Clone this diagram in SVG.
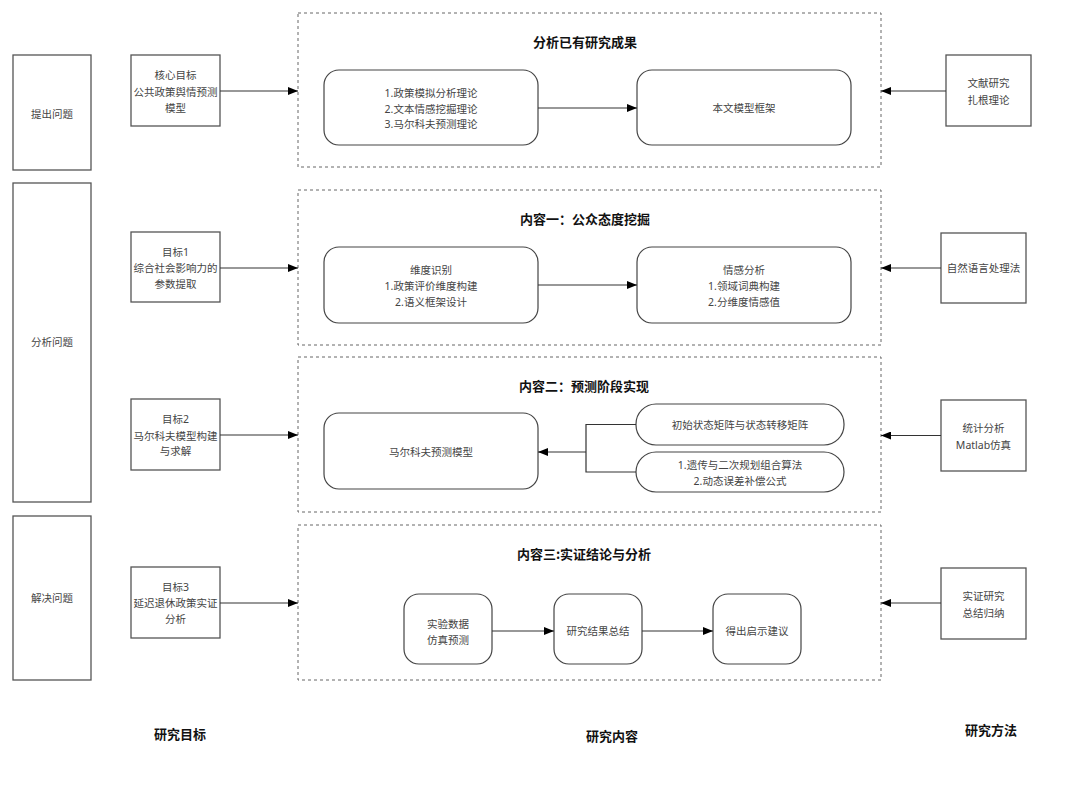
<svg xmlns="http://www.w3.org/2000/svg" width="1080" height="785" viewBox="0 0 1080 785">
<defs>
<style>
.box{fill:#fff;stroke:#555;stroke-width:1.3}
.rbox{fill:#fff;stroke:#444;stroke-width:1.2}
.cont{fill:none;stroke:#666;stroke-width:1;stroke-dasharray:3 3}
.t{font-family:"Noto Sans","Noto Sans CJK SC",sans-serif;font-size:10.5px;fill:#444;text-anchor:middle;dominant-baseline:central}
.h{font-family:"Noto Sans CJK SC",sans-serif;font-size:13px;font-weight:bold;fill:#111;text-anchor:middle;dominant-baseline:central}
.ln{fill:none;stroke:#333;stroke-width:1.2}
</style>
<marker id="ar" markerWidth="10" markerHeight="8" refX="10" refY="4" orient="auto" markerUnits="userSpaceOnUse">
<path d="M0,0 L10,4 L0,8 Z" fill="#000"/>
</marker>
</defs>
<rect width="1080" height="785" fill="#fff"/>

<g id="containers">
<rect class="cont" x="298" y="13" width="583" height="154"/>
<rect class="cont" x="298" y="190" width="583" height="155"/>
<rect class="cont" x="298" y="357" width="583" height="155"/>
<rect class="cont" x="298" y="525" width="583" height="155"/>
<text class="h" x="585" y="41">分析已有研究成果</text>
<text class="h" x="585" y="218">内容一：公众态度挖掘</text>
<text class="h" x="584" y="385">内容二：预测阶段实现</text>
<text class="h" x="584" y="553">内容三:实证结论与分析</text>
</g>

<g id="stage-1"><rect class="box" x="13" y="55" width="78" height="115"/><text class="t" x="52" y="114">提出问题</text></g>
<g id="stage-2"><rect class="box" x="13" y="183" width="78" height="319"/><text class="t" x="52" y="342">分析问题</text></g>
<g id="stage-3"><rect class="box" x="13" y="516" width="78" height="164"/><text class="t" x="52" y="598">解决问题</text></g>

<g id="goal-0"><rect class="box" x="131" y="55" width="89" height="71"/>
<text class="t" x="175.5" y="75">核心目标</text><text class="t" x="175.5" y="91.5">公共政策舆情预测</text><text class="t" x="175.5" y="108">模型</text></g>
<g id="goal-1"><rect class="box" x="131" y="232" width="89" height="70"/>
<text class="t" x="175.5" y="252">目标1</text><text class="t" x="175.5" y="268">综合社会影响力的</text><text class="t" x="175.5" y="284">参数提取</text></g>
<g id="goal-2"><rect class="box" x="131" y="399" width="89" height="71"/>
<text class="t" x="175.5" y="419">目标2</text><text class="t" x="175.5" y="435.5">马尔科夫模型构建</text><text class="t" x="175.5" y="451">与求解</text></g>
<g id="goal-3"><rect class="box" x="131" y="567" width="89" height="71"/>
<text class="t" x="175.5" y="587">目标3</text><text class="t" x="175.5" y="603">延迟退休政策实证</text><text class="t" x="175.5" y="619">分析</text></g>

<g id="method-0"><rect class="box" x="946" y="55" width="85" height="71"/>
<text class="t" x="988.5" y="83">文献研究</text><text class="t" x="988.5" y="100">扎根理论</text></g>
<g id="method-1"><rect class="box" x="941" y="233" width="85" height="70"/>
<text class="t" x="983.5" y="268">自然语言处理法</text></g>
<g id="method-2"><rect class="box" x="941" y="400" width="85" height="71"/>
<text class="t" x="983.5" y="428">统计分析</text><text class="t" x="983.5" y="445">Matlab仿真</text></g>
<g id="method-3"><rect class="box" x="941" y="568" width="85" height="71"/>
<text class="t" x="983.5" y="596">实证研究</text><text class="t" x="983.5" y="613">总结归纳</text></g>

<g id="theory"><rect class="rbox" x="324" y="70" width="214" height="75" rx="15"/>
<text class="t" x="431" y="93">1.政策模拟分析理论</text><text class="t" x="431" y="108.5">2.文本情感挖掘理论</text><text class="t" x="431" y="124">3.马尔科夫预测理论</text></g>
<g id="framework"><rect class="rbox" x="637" y="70" width="214" height="75" rx="15"/>
<text class="t" x="744" y="108">本文模型框架</text></g>

<g id="dimension"><rect class="rbox" x="324" y="247" width="214" height="76" rx="15"/>
<text class="t" x="431" y="270">维度识别</text><text class="t" x="431" y="286">1.政策评价维度构建</text><text class="t" x="431" y="301.5">2.语义框架设计</text></g>
<g id="sentiment"><rect class="rbox" x="637" y="247" width="214" height="76" rx="15"/>
<text class="t" x="744" y="270">情感分析</text><text class="t" x="744" y="286">1.领域词典构建</text><text class="t" x="744" y="301.5">2.分维度情感值</text></g>

<g id="markov"><rect class="rbox" x="324" y="413" width="214" height="76" rx="15"/>
<text class="t" x="431" y="452">马尔科夫预测模型</text></g>
<g id="matrix"><rect class="rbox" x="636" y="404" width="208" height="41" rx="20"/>
<text class="t" x="740" y="424.5">初始状态矩阵与状态转移矩阵</text></g>
<g id="algorithm"><rect class="rbox" x="636" y="452" width="208" height="40" rx="20"/>
<text class="t" x="740" y="465">1.遗传与二次规划组合算法</text><text class="t" x="740" y="480.5">2.动态误差补偿公式</text></g>

<g id="experiment"><rect class="rbox" x="404" y="594" width="88" height="70" rx="15"/>
<text class="t" x="448" y="624">实验数据</text><text class="t" x="448" y="640">仿真预测</text></g>
<g id="summary"><rect class="rbox" x="554" y="594" width="88" height="70" rx="15"/>
<text class="t" x="598" y="631">研究结果总结</text></g>
<g id="advice"><rect class="rbox" x="713" y="594" width="88" height="70" rx="15"/>
<text class="t" x="757" y="631">得出启示建议</text></g>

<g id="connectors">
<path class="ln" d="M220,91 H298" marker-end="url(#ar)"/>
<path class="ln" d="M220,268 H298" marker-end="url(#ar)"/>
<path class="ln" d="M220,435 H298" marker-end="url(#ar)"/>
<path class="ln" d="M220,603 H298" marker-end="url(#ar)"/>
<path class="ln" d="M946,91 H881" marker-end="url(#ar)"/>
<path class="ln" d="M941,268 H881" marker-end="url(#ar)"/>
<path class="ln" d="M941,435.5 H881" marker-end="url(#ar)"/>
<path class="ln" d="M941,603 H881" marker-end="url(#ar)"/>
<path class="ln" d="M538,108 H637" marker-end="url(#ar)"/>
<path class="ln" d="M538,285 H637" marker-end="url(#ar)"/>
<path class="ln" d="M636,424.5 H586 V472 H636"/>
<path class="ln" d="M586,452 H538" marker-end="url(#ar)"/>
<path class="ln" d="M492,631 H554" marker-end="url(#ar)"/>
<path class="ln" d="M642,631 H713" marker-end="url(#ar)"/>
</g>

<g id="column-labels">
<text class="h" x="180" y="733">研究目标</text>
<text class="h" x="612" y="735">研究内容</text>
<text class="h" x="991" y="729">研究方法</text>
</g>
</svg>
